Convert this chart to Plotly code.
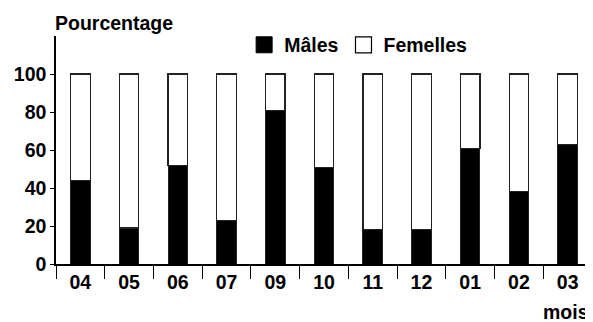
import plotly.graph_objects as go

months = ["04", "05", "06", "07", "09", "10", "11", "12", "01", "02", "03"]
males = [44, 19, 52, 23, 81, 51, 18, 18, 61, 38, 63]
females = [100 - m for m in males]
y_ticks = [0, 20, 40, 60, 80, 100]

FONT = "Liberation Sans, Arial, Helvetica, sans-serif"
FS = 19.5

fig = go.Figure()
fig.add_trace(go.Bar(x=months, y=males, name="Mâles", showlegend=False,
                     marker=dict(color="black", line=dict(color="#222", width=1))))
fig.add_trace(go.Bar(x=months, y=females, name="Femelles", showlegend=False,
                     marker=dict(color="white", line=dict(color="#222", width=1.2))))
# legend entries (square swatches)
fig.add_trace(go.Scatter(x=[None], y=[None], mode="markers", name="Mâles",
                         marker=dict(symbol="square", size=16, color="black",
                                     line=dict(color="black", width=1))))
fig.add_trace(go.Scatter(x=[None], y=[None], mode="markers", name="Femelles",
                         marker=dict(symbol="square", size=16, color="white",
                                     line=dict(color="black", width=1.2))))

fig.update_layout(
    width=585, height=314,
    margin=dict(l=48, r=1, t=28, b=58),
    barmode="stack", bargap=0.6,
    plot_bgcolor="white", paper_bgcolor="white",
    font=dict(family=FONT, size=FS, color="black", weight="bold"),
    legend=dict(orientation="h", x=0.351, xanchor="left", y=0.96, yanchor="middle",
                traceorder="normal", font=dict(size=FS, weight="bold"),
                bgcolor="rgba(0,0,0,0)", itemsizing="trace"),
    xaxis=dict(type="category", showline=True, linecolor="black", linewidth=1.5,
               ticks="outside", tickson="boundaries", ticklen=13, tickcolor="black",
               tickwidth=1.2, showgrid=False, zeroline=False),
    yaxis=dict(range=[0, 120], tickvals=y_ticks, showline=True, linecolor="black",
               linewidth=1.5, ticks="outside", ticklen=4, tickcolor="black",
               showgrid=False, zeroline=False),
    annotations=[
        dict(text="Pourcentage", xref="paper", yref="paper", x=-0.006, y=1.057,
             xanchor="left", yanchor="middle", showarrow=False,
             font=dict(size=FS, weight="bold")),
        dict(text="mois", xref="paper", yref="paper", x=0.951, y=-0.21,
             xanchor="center", yanchor="middle", showarrow=False,
             font=dict(size=FS, weight="bold")),
    ],
)

fig.write_html("out.html")
